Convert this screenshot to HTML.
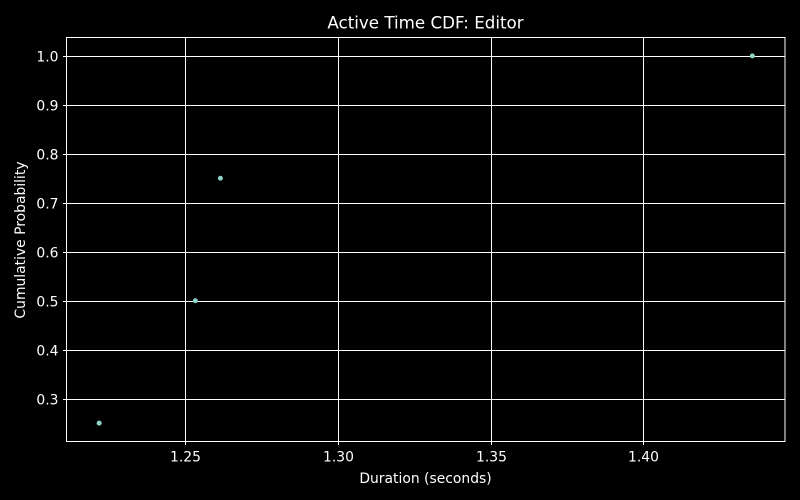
<!DOCTYPE html>
<html><head><meta charset="utf-8"><style>
html,body{margin:0;padding:0;background:#000;}
svg{display:block;font-family:"DejaVu Sans","Liberation Sans",sans-serif;}
</style></head><body>
<svg id="chart" width="800" height="500">
<rect width="800" height="500" fill="#000"/>
<text x="425.5" y="28.5" fill="#fff" font-size="16.7" text-anchor="middle">Active Time CDF: Editor</text>
<text x="425.5" y="483" fill="#fff" font-size="13.9" text-anchor="middle">Duration (seconds)</text>
<text transform="translate(25,240) rotate(-90)" fill="#fff" font-size="13.9" text-anchor="middle">Cumulative Probability</text>
<g id="grid"></g><g id="ticks"></g><g id="pts"></g>
<rect x="66.5" y="37.5" width="718.5" height="404" fill="none" stroke="#fff" stroke-width="1"/>
</svg>
<script>
const durations = [1.2218, 1.2533, 1.2615, 1.4357];
const probabilities = [0.25, 0.5, 0.75, 1.0];
const xTicks = [1.25, 1.30, 1.35, 1.40];
const xTickLabels = ["1.25", "1.30", "1.35", "1.40"];
const yTicks = [0.3, 0.4, 0.5, 0.6, 0.7, 0.8, 0.9, 1.0];
const yTickLabels = ["0.3", "0.4", "0.5", "0.6", "0.7", "0.8", "0.9", "1.0"];

const L=66.5,R=785,T=37.5,B=441.5;
const xmin=Math.min(...durations),xmax=Math.max(...durations),xm=(xmax-xmin)*0.05;
const ymin=Math.min(...probabilities),ymax=Math.max(...probabilities),ym=(ymax-ymin)*0.05;
const X=v=>L+(v-(xmin-xm))/((xmax+xm)-(xmin-xm))*(R-L);
const Y=v=>B-(v-(ymin-ym))/((ymax+ym)-(ymin-ym))*(B-T);
const NS="http://www.w3.org/2000/svg";
const g=document.getElementById('grid'),tk=document.getElementById('ticks'),pg=document.getElementById('pts');
function mk(t,a,p){const e=document.createElementNS(NS,t);for(const k in a)e.setAttribute(k,a[k]);p.appendChild(e);return e;}
xTicks.forEach((v,i)=>{
  const x=Math.round(X(v))+0.5;
  const l=mk('line',{x1:x,x2:x,y1:T,y2:B,stroke:'#fff','stroke-width':1},g);
  
  
  mk('line',{x1:x,x2:x,y1:B,y2:B+3.5,stroke:'#fff'},tk);
  const t=mk('text',{x:x,y:B+20,fill:'#fff','font-size':13.9,'text-anchor':'middle'},tk);
  t.textContent=xTickLabels[i];
  
  
});
yTicks.forEach((v,i)=>{
  const y=Math.round(Y(v))+0.5;
  const l=mk('line',{x1:L,x2:R,y1:y,y2:y,stroke:'#fff','stroke-width':1},g);
  
  
  mk('line',{x1:L-3.5,x2:L,y1:y,y2:y,stroke:'#fff'},tk);
  const t=mk('text',{x:L-8,y:y+5,fill:'#fff','font-size':13.9,'text-anchor':'end'},tk);
  t.textContent=yTickLabels[i];
  
  
});
durations.forEach((d,i)=>{
  const c=mk('circle',{cx:X(d),cy:Y(probabilities[i]),r:2.5,fill:'#8dd3c7'},pg);
  
  
});
</script>
</body></html>
